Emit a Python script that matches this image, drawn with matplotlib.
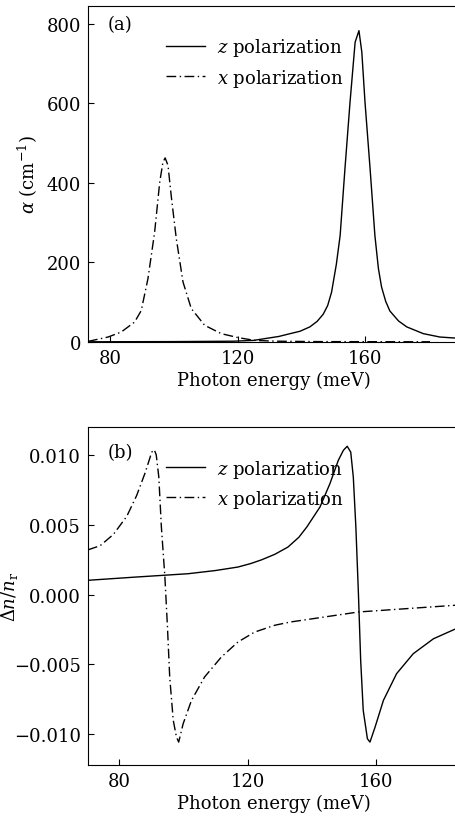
import numpy as np
import matplotlib
matplotlib.use("Agg")
import matplotlib.pyplot as plt
from matplotlib.ticker import FuncFormatter

plt.rcParams['font.family'] = ['DejaVu Serif']
plt.rcParams['mathtext.fontset'] = 'dejavuserif'
plt.rcParams['font.size'] = 13

# (a) absorption coefficient
ea_z = [73, 100, 118.7, 125, 129, 133, 136.5, 139.6, 142.7, 145, 146.9, 148.3,
        149.5, 151, 152.2, 153.7, 155.3, 156.9, 158.1, 159, 160, 161.6, 163.1,
        164.2, 165.2, 166.5, 167.8, 170.5, 173.1, 178.3, 183.5, 190]
alpha_z = [0.5, 1, 2, 4, 9, 14, 21, 27, 38, 52, 70, 92,
           125, 195, 268, 435, 603, 754, 783, 729, 603, 435, 268,
           185, 138, 102, 78, 53, 38, 21, 12.5, 9]
ea_x = [73.1, 79.4, 83.5, 87.7, 89.8, 91.9, 94, 95.6, 96.6, 97.3, 98.2, 99.2,
        100.8, 102.9, 105.5, 109.7, 114.9, 120.2, 125.4, 132, 145, 180.4]
alpha_x = [1.5, 12.5, 25, 50, 79, 159, 276, 402, 452, 463, 444, 368,
           260, 151, 84, 42, 21, 11, 4, 2, 1, 0.5]

# (b) refractive index change
eb_z = [70.2, 85, 101.4, 110, 117, 121, 124.3, 128.5, 132.6, 136, 138.5, 142.6,
        145.7, 148.3, 149.9, 151.1, 152.2, 153, 153.8, 154.6, 155.3, 156.1, 157.4,
        158.2, 159.8, 162.4, 166.5, 171.7, 178, 186]
dn_z = [0.00102, 0.00125, 0.00149, 0.00172, 0.00197, 0.00222, 0.00248, 0.00288,
        0.0034, 0.0041, 0.00484, 0.00627, 0.00794, 0.0096, 0.01033, 0.01062,
        0.0102, 0.00842, 0.00484, 0.00006, -0.00471, -0.0083, -0.01033, -0.01057,
        -0.00949, -0.00758, -0.00567, -0.00424, -0.00317, -0.00235]
eb_x = [70.2, 74, 78.1, 82.3, 85.4, 88, 90.1, 90.9, 91.5, 92.3, 93.1, 94.2, 95,
        95.7, 96.8, 97.8, 98.5, 99.9, 102.5, 106.6, 111.8, 117, 122.2, 128.5,
        133.3, 154.6, 186]
dn_x = [0.0032, 0.0035, 0.0043, 0.0056, 0.0071, 0.0087, 0.0102, 0.01037, 0.0100,
        0.00842, 0.00484, 0.00125, -0.00233, -0.0059, -0.009, -0.0102, -0.01057,
        -0.00925, -0.00758, -0.0059, -0.00448, -0.0034, -0.00269, -0.0022,
        -0.00197, -0.00125, -0.00075]

W, H = 455, 829
fig = plt.figure(figsize=(W / 100, H / 100), dpi=100)

def px_axes(l, t, r, b):
    return fig.add_axes([l / W, 1 - b / H, (r - l) / W, (b - t) / H])

dashdot = (0, (7, 2.5, 1, 2.5))

ax1 = px_axes(88, 7, 460, 343)
ax1.plot(ea_z, alpha_z, color='black', lw=1.0, label=r'$z$ polarization')
ax1.plot(ea_x, alpha_x, color='black', lw=1.0, linestyle=dashdot, label=r'$x$ polarization')
ax1.set_xlim(73.1, 189.8)
ax1.set_ylim(0, 845)
ax1.set_xticks([80, 120, 160])
ax1.set_yticks([0, 200, 400, 600, 800])
ax1.set_xlabel('Photon energy (meV)', labelpad=3)
ax1.set_ylabel(r'$\alpha$ (cm$^{-1}$)')
ax1.text(0.052, 0.946, '(a)', transform=ax1.transAxes, va='center')

ax2 = px_axes(88, 428, 460, 766)
ax2.plot(eb_z, dn_z, color='black', lw=1.0, label=r'$z$ polarization')
ax2.plot(eb_x, dn_x, color='black', lw=1.0, linestyle=dashdot, label=r'$x$ polarization')
ax2.set_xlim(70.2, 186.3)
ax2.set_ylim(-0.01221, 0.0120)
ax2.set_xticks([80, 120, 160])
ax2.set_yticks([-0.010, -0.005, 0.0, 0.005, 0.010])
ax2.yaxis.set_major_formatter(FuncFormatter(lambda v, p: f'{v:.3f}'.replace('-', '\u2212')))
ax2.set_xlabel('Photon energy (meV)', labelpad=3)
ax2.set_ylabel(r'$\Delta n/n_{\mathrm{r}}$')
ax2.text(0.052, 0.926, '(b)', transform=ax2.transAxes, va='center')

for ax in (ax1, ax2):
    ax.tick_params(direction='in', length=4, width=0.8, pad=5)
    ax.spines['right'].set_visible(False)
    ax.legend(loc='upper left', bbox_to_anchor=(0.189, 0.931), frameon=False,
              handlelength=2.2, handletextpad=0.65, labelspacing=0.45, borderaxespad=0)

ax1.yaxis.set_label_coords(-0.128, 0.5)
ax2.yaxis.set_label_coords(-0.183, 0.5)

fig.savefig('out.png', dpi=100)
